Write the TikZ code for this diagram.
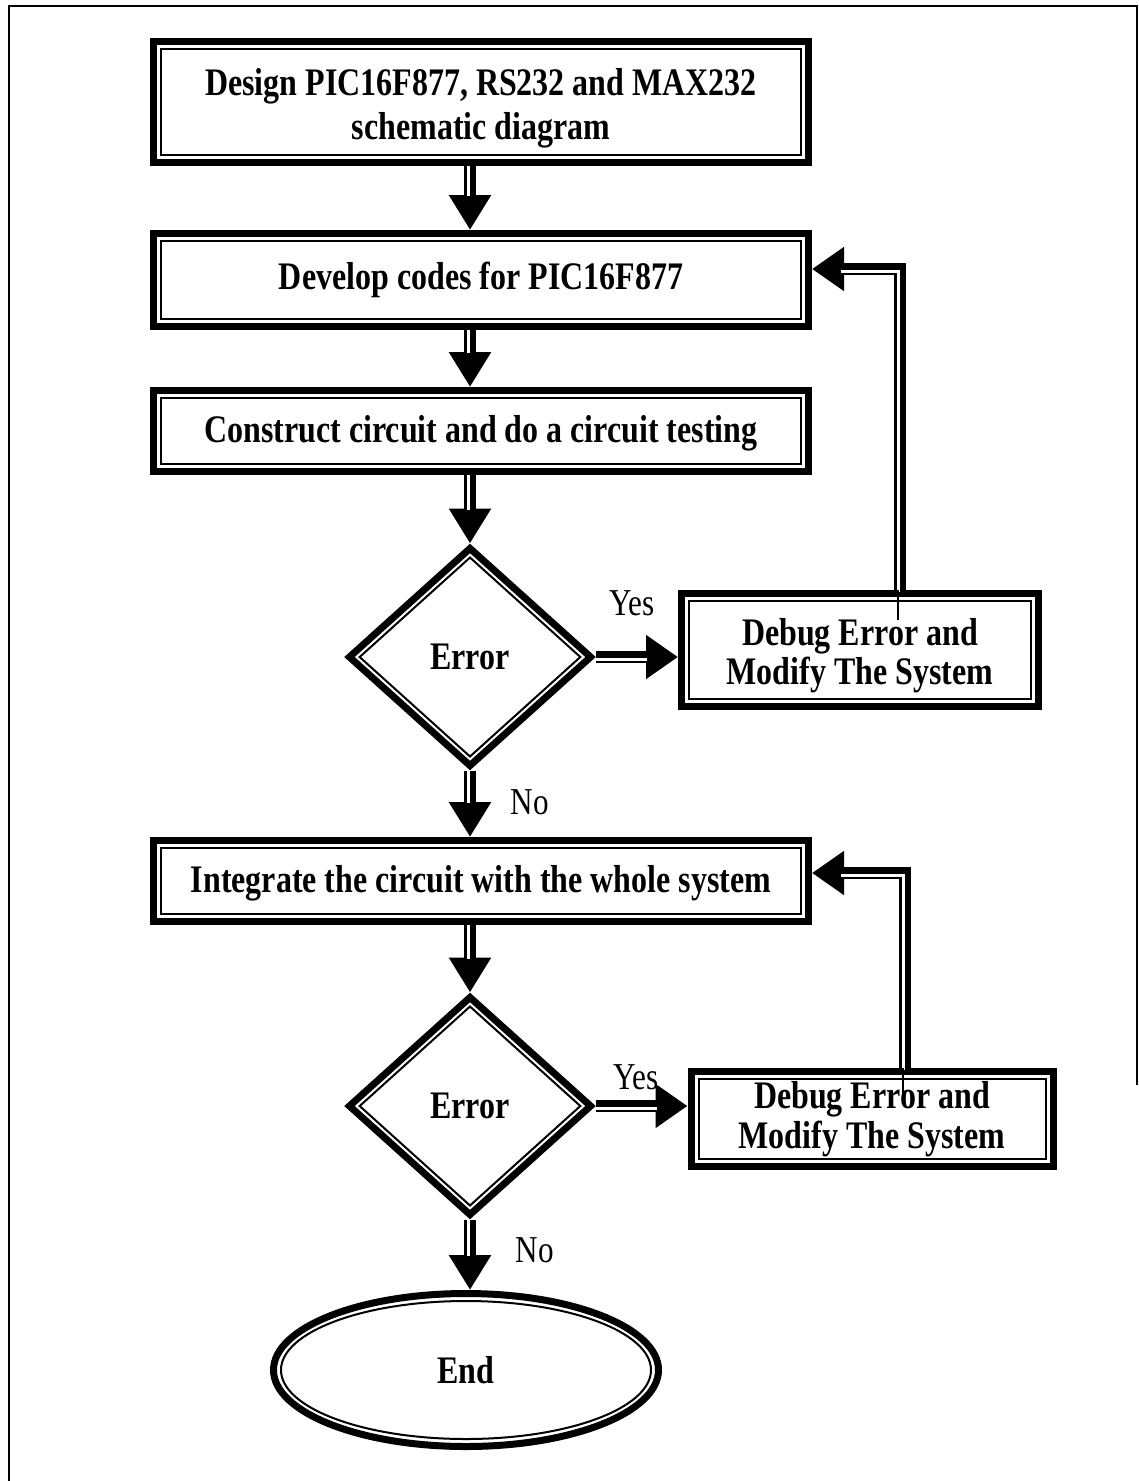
\documentclass[tikz,border=0pt]{standalone}
\usepackage{fontspec}
\setmainfont{Liberation Serif}[FakeStretch=0.82]
\usetikzlibrary{arrows.meta,shapes.geometric,calc}
\begin{document}
\begin{tikzpicture}[x=1pt,y=-1pt,
  boxtext/.style={font=\bfseries\fontsize{39}{44}\selectfont, align=center},
  stepbox/.style={draw, line width=7pt, rectangle, inner sep=0pt, boxtext},
  decision/.style={draw, line width=7pt, diamond, inner sep=0pt,
    minimum width=244pt, minimum height=220pt, boxtext},
  terminal/.style={draw, line width=7pt, ellipse, inner sep=0pt,
    minimum width=385pt, minimum height=153pt, boxtext},
  innerline/.style={line width=2pt},
  flow/.style={line width=12pt, -{Triangle[length=35pt,width=40pt]}},
  sideflow/.style={line width=12pt, -{Triangle[length=32pt,width=42pt]}},
  gap/.style={draw=white, line width=3pt},
  lbl/.style={font=\fontsize{38}{40}\selectfont, inner sep=0pt}
]
\useasboundingbox (0,0) rectangle (1139,1481);

% page frame
\draw[line width=2pt] (9,1481) -- (9,6) -- (1137,6) -- (1137,1085);

% process boxes
\node[stepbox, minimum width=655pt, minimum height=121pt, text height=84pt, text depth=9pt] (b1) at (481,102)
  {Design PIC16F877, RS232 and MAX232\\schematic diagram};
\node[stepbox, minimum width=655pt, minimum height=93pt] (b2) at (481,280)
  {Develop codes for PIC16F877};
\node[stepbox, minimum width=655pt, minimum height=81pt, text height=32pt, text depth=9pt] (b3) at (481,431)
  {Construct circuit and do a circuit testing};
\node[stepbox, minimum width=655pt, minimum height=81pt, text height=32pt, text depth=9pt] (b4) at (481,881)
  {Integrate the circuit with the whole system};
\node[stepbox, minimum width=357pt, minimum height=113pt, text height=78pt, text depth=9pt,
  font=\bfseries\fontsize{39}{39}\selectfont] (d1) at (860,650)
  {Debug Error and\\Modify The System};
\node[stepbox, minimum width=362pt, minimum height=95pt,
  font=\bfseries\fontsize{39}{40}\selectfont] (d2) at (872,1119)
  {Debug Error and\\Modify The System};

% decisions and end
\node[decision] (q1) at (470,657) {Error};
\node[decision] (q2) at (470,1106) {Error};
\node[terminal] (end) at (466,1370) {End};

% inner thin outlines
\foreach \n in {b1,b2,b3,b4,d1,d2}
  \draw[innerline] ([shift={(11pt,-11pt)}]\n.north west) rectangle ([shift={(-11pt,11pt)}]\n.south east);
\foreach \n in {q1,q2}
  \node[diamond, draw, innerline, inner sep=0pt, minimum width=221.5pt, minimum height=199.8pt] at (\n) {};
\node[ellipse, draw, innerline, inner sep=0pt, minimum width=370pt, minimum height=138pt] at (end) {};

% main flow
\coordinate (ax) at (470,0);
\draw[flow] (b1.south -| ax) -- (b2.north -| ax);
\draw[gap, shorten >=34pt] ([xshift=-2pt]b1.south -| ax) -- ([xshift=-2pt]b2.north -| ax);
\draw[flow] (b2.south -| ax) -- (b3.north -| ax);
\draw[gap, shorten >=34pt] ([xshift=-2pt]b2.south -| ax) -- ([xshift=-2pt]b3.north -| ax);
\draw[flow] (b3.south -| ax) -- (q1.north);
\draw[gap, shorten >=34pt] ([xshift=-2pt]b3.south -| ax) -- ([xshift=-2pt]q1.north);
\draw[flow] (q1.south) -- (b4.north -| ax);
\draw[gap, shorten >=34pt] ([xshift=-2pt]q1.south) -- ([xshift=-2pt]b4.north -| ax);
\draw[flow] (b4.south -| ax) -- (q2.north);
\draw[gap, shorten >=34pt] ([xshift=-2pt]b4.south -| ax) -- ([xshift=-2pt]q2.north);
\draw[flow] (q2.south) -- (q2.south |- end.north);
\draw[gap, shorten >=34pt] ([xshift=-2pt]q2.south) -- ([xshift=-2pt]q2.south |- end.north);

% yes branches
\draw[sideflow] (q1.east) -- (q1.east -| d1.west);
\draw[gap, shorten >=31pt] ([yshift=-2pt]q1.east) -- ([yshift=-2pt]q1.east -| d1.west);
\draw[sideflow] (q2.east) -- (q2.east -| d2.west);
\draw[gap, shorten >=31pt] ([yshift=-2pt]q2.east) -- ([yshift=-2pt]q2.east -| d2.west);

% feedback loops
\coordinate (f1) at (900,269);
\draw[sideflow] (f1 |- d1.north) -- (f1) -- (f1 -| b2.east);
\draw[gap, shorten >=31pt] ([shift={(-2pt,-2pt)}]f1 |- d1.north) -- ([shift={(-2pt,-2pt)}]f1) -- ([shift={(-2pt,-2pt)}]f1 -| b2.east);
\draw[line width=1.5pt] ([xshift=-2pt]f1 |- d1.north) -- ++(0,30);
\coordinate (f2) at (905,873);
\draw[sideflow] (f2 |- d2.north) -- (f2) -- (f2 -| b4.east);
\draw[gap, shorten >=31pt] ([shift={(-2pt,-2pt)}]f2 |- d2.north) -- ([shift={(-2pt,-2pt)}]f2) -- ([shift={(-2pt,-2pt)}]f2 -| b4.east);
\draw[line width=1.5pt] ([xshift=-2pt]f2 |- d2.north) -- ++(0,28);

% branch labels
\node[lbl] (y1) at (632,603) {Yes};
\node[lbl] (n1) at (530,802) {No};
\node[lbl] (y2) at (636,1077) {Yes};
\node[lbl] (n2) at (535,1250) {No};
\end{tikzpicture}
\end{document}
